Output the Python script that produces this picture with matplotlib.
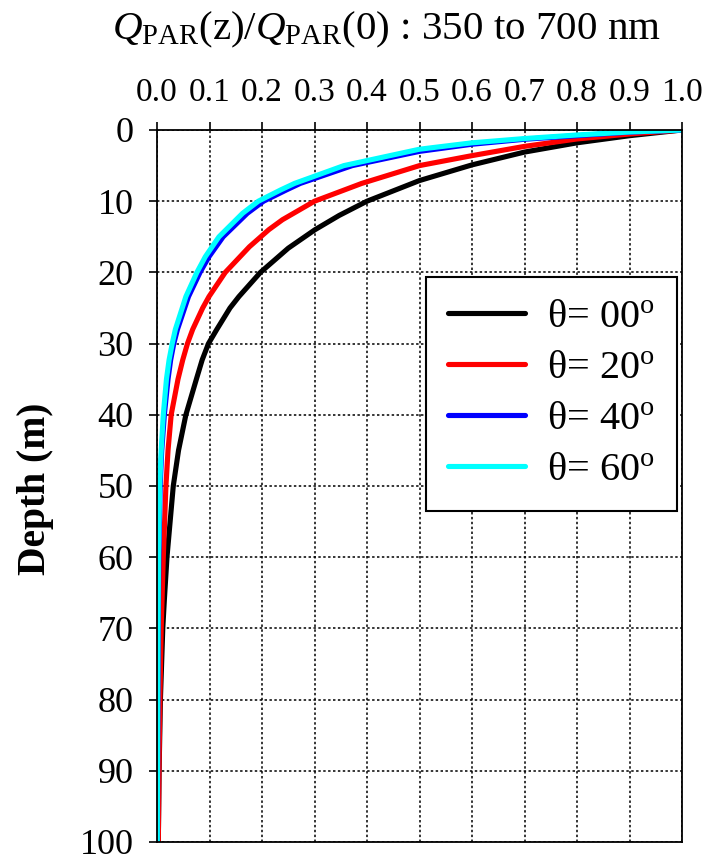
import matplotlib
matplotlib.use("Agg")
import matplotlib.pyplot as plt
import numpy as np

plt.rcParams['font.family'] = ['Liberation Serif', 'DejaVu Serif']
plt.rcParams['mathtext.fontset'] = 'custom'
plt.rcParams['mathtext.rm'] = 'Liberation Serif'
plt.rcParams['mathtext.it'] = 'Liberation Serif:italic'

# depth (m) and normalised PAR for each solar zenith angle
z0 = [0, 0.8, 1.8, 3.1, 4.9, 7.1, 10, 12, 14, 16.6, 20, 23.4, 25, 28, 30, 32.3, 35, 40, 45, 50, 60, 66, 70, 80, 90, 100]
q0 = [1.0, 0.9, 0.8, 0.7, 0.6, 0.5, 0.40, 0.347, 0.301, 0.250, 0.197, 0.156, 0.139, 0.114, 0.098, 0.086, 0.075, 0.055, 0.041, 0.031, 0.019, 0.014, 0.011, 0.0065, 0.004, 0.0025]

z20 = [0, 0.56, 1.26, 2.3, 3.6, 5.0, 7.5, 10, 12.6, 14, 16.4, 20, 23.4, 25, 28, 30, 32.3, 35, 40, 45, 50, 60, 70, 80, 90, 100]
q20 = [1.0, 0.9, 0.8, 0.7, 0.6, 0.5, 0.39, 0.30, 0.239, 0.213, 0.176, 0.130, 0.099, 0.087, 0.068, 0.058, 0.049, 0.040, 0.027, 0.021, 0.017, 0.012, 0.008, 0.0055, 0.0038, 0.0025]

z40 = [0, 0.3, 0.8, 1.3, 2.0, 3.0, 5, 7.5, 8.4, 10, 11.7, 15, 17.8, 20, 23.4, 28, 30, 32.3, 35, 40, 45, 50, 60, 70, 80, 90, 100]
q40 = [1.0, 0.9, 0.8, 0.7, 0.6, 0.5, 0.372, 0.273, 0.247, 0.203, 0.172, 0.126, 0.099, 0.082, 0.060, 0.039, 0.032, 0.026, 0.021, 0.014, 0.009, 0.006, 0.0035, 0.0024, 0.0016, 0.0011, 0.0008]

z60 = [0, 0.28, 0.7, 1.2, 1.8, 2.7, 5, 7.5, 8.4, 10, 11.7, 15, 17.8, 20, 23.4, 28, 30, 32.3, 35, 40, 45, 50, 60, 70, 80, 90, 100]
q60 = [1.0, 0.9, 0.8, 0.7, 0.6, 0.5, 0.356, 0.262, 0.236, 0.193, 0.163, 0.118, 0.092, 0.076, 0.055, 0.035, 0.029, 0.023, 0.018, 0.012, 0.008, 0.005, 0.003, 0.002, 0.0013, 0.0009, 0.0006]

labels = ['θ= 00$^{\\mathrm{o}}$', 'θ= 20$^{\\mathrm{o}}$',
          'θ= 40$^{\\mathrm{o}}$', 'θ= 60$^{\\mathrm{o}}$']

fig = plt.figure(figsize=(7.24, 8.6), dpi=100)
ax = fig.add_axes([157/724, 1-842/860, 525/724, 712/860])

lw = 3.7
ax.plot(q0, z0, color='black', lw=lw, label=labels[0], solid_capstyle='round')
ax.plot(q20, z20, color='red', lw=lw, label=labels[1], solid_capstyle='round')
ax.plot(q40, z40, color='blue', lw=lw, label=labels[2], solid_capstyle='round')
ax.plot(q60, z60, color='cyan', lw=lw, label=labels[3], solid_capstyle='round')

ax.set_xlim(0, 1.0)
ax.set_ylim(100, 0)
ax.set_xticks(np.arange(0, 1.01, 0.1))
ax.set_xticklabels(['%.1f' % v for v in np.arange(0, 1.01, 0.1)])
ax.set_yticks(np.arange(0, 101, 10))
ax.xaxis.tick_top()
ax.tick_params(axis='both', direction='out', length=6, width=1.2)
ax.tick_params(axis='x', labelsize=24, pad=10)
ax.tick_params(axis='y', labelsize=26, pad=11)
ax.grid(True, color='black', linestyle=(0, (1.6, 1.6)), linewidth=1.1)
for s in ax.spines.values():
    s.set_linewidth(1.3)

fig.text(35/724, 1-489/860, 'Depth (m)', rotation=90, ha='center', va='center',
         fontsize=28.5, fontweight='bold')

fig.text(386/724, 1-30/860, r'$Q_{\mathrm{PAR}}$(z)/$Q_{\mathrm{PAR}}$(0) : 350 to 700 nm',
         ha='center', va='center', fontsize=29.5)

leg = ax.legend(loc='upper right', bbox_to_anchor=(0.9905, 0.794), fontsize=29,
                fancybox=False, edgecolor='black', framealpha=1,
                handlelength=1.9, handletextpad=0.55, borderpad=0.55,
                borderaxespad=0, labelspacing=0.34)
leg.get_frame().set_linewidth(1.5)

fig.savefig('out.png', dpi=100)
